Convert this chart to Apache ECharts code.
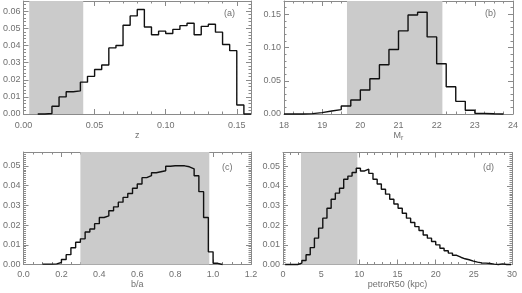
<!DOCTYPE html>
<html>
<head>
<meta charset="utf-8">
<script src="https://cdn.jsdelivr.net/npm/echarts@6/dist/echarts.min.js"></script>
<style>html,body{margin:0;padding:0;background:#fff;}#c{width:522px;height:293px;}</style>
</head>
<body>
<div id="c"></div>
<script>
// ---- data ----
// (a) redshift z
const zBinStart = 0.010, zBinWidth = 0.005;
const zValues = [0, 0.0003, 0.0045, 0.010, 0.013, 0.0135, 0.0186, 0.022, 0.026, 0.0286,
  0.0386, 0.040, 0.0518, 0.0573, 0.061, 0.0508, 0.0463, 0.0484, 0.047, 0.0494,
  0.0516, 0.053, 0.0463, 0.0512, 0.0524, 0.0478, 0.0406, 0.037, 0.0053, 0];
const zShade = [0.004, 0.042];

// (b) absolute magnitude M_r
const mBinStart = 18.0, mBinWidth = 0.25;
const mValues = [0, 0, 0.0005, 0.002, 0.0045, 0.0066, 0.012, 0.021, 0.036, 0.053,
  0.074, 0.097, 0.125, 0.149, 0.153, 0.116, 0.0756, 0.041, 0.019, 0.0056,
  0.001, 0.0003, 0];
const mShade = [19.65, 22.15];

// (c) axis ratio b/a
const baBinStart = 0.10, baBinWidth = 0.025;
const baValues = [0.0002, 0.0002, 0.0003, 0.001, 0.0025, 0.005, 0.0085, 0.0113, 0.013, 0.0165,
  0.018, 0.0207, 0.0238, 0.0246, 0.0272, 0.0292, 0.0316, 0.034, 0.036, 0.0386,
  0.0408, 0.044, 0.045, 0.0465, 0.047, 0.0475, 0.0498, 0.050, 0.050, 0.050,
  0.0495, 0.0485, 0.045, 0.0369, 0.0238, 0.0064, 0.0006, 0];
const baShade = [0.30, 0.98];

// (d) petroR50 (kpc)
const rBinStart = 0.28, rBinWidth = 0.548;
const rValues = [0, 0, 0, 0.0007, 0.002, 0.005, 0.0086, 0.0134, 0.0185, 0.0236,
  0.0286, 0.0332, 0.0363, 0.0388, 0.0434, 0.045, 0.0468, 0.049, 0.0476, 0.0485,
  0.0464, 0.0434, 0.041, 0.0383, 0.0358, 0.0332, 0.0308, 0.0286, 0.0261, 0.0236,
  0.0214, 0.0193, 0.0173, 0.015, 0.0134, 0.0117, 0.01, 0.0083, 0.007, 0.0058,
  0.0047, 0.0037, 0.0029, 0.0024, 0.0017, 0.0012, 0.0008, 0.0007, 0.0005, 0.0002,
  0, 0.0003, 0, 0];
const rShade = [2.36, 9.74];

const panelLabels = ['(a)', '(b)', '(c)', '(d)'];

// ---- build ----
function stepData(start, w, vals) {
  const out = vals.map((v, i) => [start + i * w, v]);
  out.push([start + vals.length * w, vals[vals.length - 1]]);
  return out;
}

const FONT = 'Liberation Sans';
const AX = '#8a8a8a';
const TXT = '#707070';

const panels = [
  { grid: {left: 22, top: 1, width: 229, height: 113},
    x: {min: 0, max: 0.16, interval: 0.05, minor: 5, fmt: v => v.toFixed(2), name: 'z', margin: 7, gap: 16, showMax: false},
    y: {min: 0, max: 0.066, interval: 0.01, minor: 5},
    data: stepData(zBinStart, zBinWidth, zValues), shade: zShade, label: [232, 15] },
  { grid: {left: 284, top: 1, width: 229, height: 113},
    x: {min: 18, max: 24, interval: 1, minor: 4, fmt: v => String(Math.round(v)), name: 'M{s|r}', margin: 7, gap: 15, showMax: true},
    y: {min: 0, max: 0.17, interval: 0.05, minor: 5},
    data: stepData(mBinStart, mBinWidth, mValues), shade: mShade, label: [493, 15] },
  { grid: {left: 22, top: 152, width: 229, height: 112.5},
    x: {min: 0, max: 1.2, interval: 0.2, minor: 4, fmt: v => v.toFixed(1), name: 'b/a', margin: 6, gap: 16, showMax: true},
    y: {min: 0, max: 0.057, interval: 0.01, minor: 10},
    data: stepData(baBinStart, baBinWidth, baValues), shade: baShade, label: [230, 169] },
  { grid: {left: 283, top: 152.5, width: 229, height: 112},
    x: {min: 0, max: 30, interval: 5, minor: 5, fmt: v => String(Math.round(v)), name: 'petroR50 (kpc)', margin: 6, gap: 15, showMax: true},
    y: {min: 0, max: 0.057, interval: 0.01, minor: 10},
    data: stepData(rBinStart, rBinWidth, rValues), shade: rShade, label: [491, 169] }
];

const grids = [], xAxes = [], yAxes = [], series = [], graphics = [];
const textStyle = {fontFamily: FONT, fontSize: 9, color: TXT};

panels.forEach((p, i) => {
  grids.push(Object.assign({containLabel: false}, p.grid));
  const tick = {show: true, inside: true, length: 5, lineStyle: {color: AX, width: 1}};
  const minorX = {show: true, splitNumber: p.x.minor, length: 2.5, lineStyle: {color: AX, width: 1}};
  const minorY = {show: true, splitNumber: p.y.minor, length: 2.5, lineStyle: {color: AX, width: 1}};
  const line = {show: true, onZero: false, lineStyle: {color: AX, width: 1}};
  xAxes.push({
    type: 'value', gridIndex: i, position: 'bottom', min: p.x.min, max: p.x.max, interval: p.x.interval,
    axisLine: line, axisTick: tick, minorTick: minorX, splitLine: {show: false},
    axisLabel: Object.assign({margin: p.x.margin, formatter: p.x.fmt, showMaxLabel: p.x.showMax, hideOverlap: false}, textStyle),
    name: p.x.name, nameLocation: 'middle', nameGap: p.x.gap,
    nameTextStyle: Object.assign({rich: {s: {fontFamily: FONT, fontSize: 7, color: TXT, verticalAlign: 'bottom', padding: [6, 0, 0, 0]}}}, textStyle)
  });
  xAxes.push({
    type: 'value', gridIndex: i, position: 'top', min: p.x.min, max: p.x.max, interval: p.x.interval,
    axisLine: line, axisTick: tick, minorTick: minorX, splitLine: {show: false}, axisLabel: {show: false}
  });
  yAxes.push({
    type: 'value', gridIndex: i, position: 'left', min: p.y.min, max: p.y.max, interval: p.y.interval,
    axisLine: line, axisTick: tick, minorTick: minorY, splitLine: {show: false},
    axisLabel: Object.assign({margin: 3, formatter: v => v.toFixed(2), showMaxLabel: false, hideOverlap: false}, textStyle)
  });
  yAxes.push({
    type: 'value', gridIndex: i, position: 'right', min: p.y.min, max: p.y.max, interval: p.y.interval,
    axisLine: line, axisTick: tick, minorTick: minorY, splitLine: {show: false}, axisLabel: {show: false}
  });
  series.push({
    type: 'line', xAxisIndex: 2 * i, yAxisIndex: 2 * i, data: [], z: 1, silent: true,
    markArea: {silent: true, itemStyle: {color: '#cbcbcb'}, data: [[{xAxis: p.shade[0]}, {xAxis: p.shade[1]}]]}
  });
  series.push({
    type: 'line', xAxisIndex: 2 * i, yAxisIndex: 2 * i, data: p.data, step: 'end', z: 3,
    symbol: 'none', lineStyle: {color: '#111', width: 1.4}, silent: true, clip: false
  });
  graphics.push({
    type: 'text', left: p.label[0] - 8, top: p.label[1] - 6,
    style: {text: panelLabels[i], fontFamily: FONT, fontSize: 9, fill: TXT}
  });
});

const chart = echarts.init(document.getElementById('c'), null, {renderer: 'canvas'});
chart.setOption({
  animation: false,
  backgroundColor: '#fff',
  grid: grids, xAxis: xAxes, yAxis: yAxes, series: series, graphic: graphics
});
</script>
</body>
</html>
